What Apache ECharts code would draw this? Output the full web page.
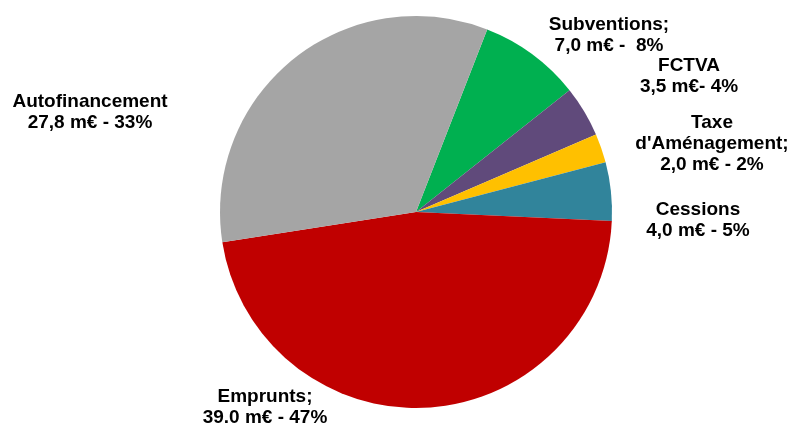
<!DOCTYPE html>
<html><head><meta charset="utf-8">
<script src="https://cdn.jsdelivr.net/npm/echarts@6/dist/echarts.min.js"></script>
<style>html,body{margin:0;padding:0;background:#fff}#c{width:790px;height:426px}</style>
</head><body><div id="c"></div>
<script>
const categories = ["Subventions", "FCTVA", "Taxe d'Aménagement", "Cessions", "Emprunts", "Autofinancement"];
const values = [7.0, 3.5, 2.0, 4.0, 39.0, 27.8];
const labelTexts = [
  "Subventions;\n7,0 m€ -  8%",
  "FCTVA\n3,5 m€- 4%",
  "Taxe\nd'Aménagement;\n2,0 m€ - 2%",
  "Cessions\n4,0 m€ - 5%",
  "Emprunts;\n39.0 m€ - 47%",
  "Autofinancement\n27,8 m€ - 33%"
];
const colors = ["#00B050", "#604A7B", "#FFC000", "#31849B", "#C00000", "#A5A5A5"];
const labelPos = [[609, 35], [689, 76], [712, 144], [698, 220], [265, 407], [90, 112]];

const chart = echarts.init(document.getElementById('c'));
chart.setOption({
  animation: false,
  series: [{
    type: 'pie',
    center: [416, 212],
    radius: [0, 196],
    startAngle: 68.7,
    clockwise: true,
    data: categories.map((n, i) => ({ name: n, value: values[i], itemStyle: { color: colors[i] } })),
    itemStyle: { borderWidth: 0 },
    label: {
      show: true,
      position: 'outside',
      formatter: p => labelTexts[p.dataIndex],
      fontFamily: 'Liberation Sans, Arial, sans-serif',
      fontWeight: 'bold',
      fontSize: 19,
      lineHeight: 21,
      color: '#000',
      align: 'center',
      overflow: 'none',
      width: 200,
      edgeDistance: 0
    },
    labelLine: { show: false },
    labelLayout: p => ({ x: labelPos[p.dataIndex][0], y: labelPos[p.dataIndex][1], align: 'center', verticalAlign: 'middle' }),
    emphasis: { disabled: true }
  }]
});
</script></body></html>
